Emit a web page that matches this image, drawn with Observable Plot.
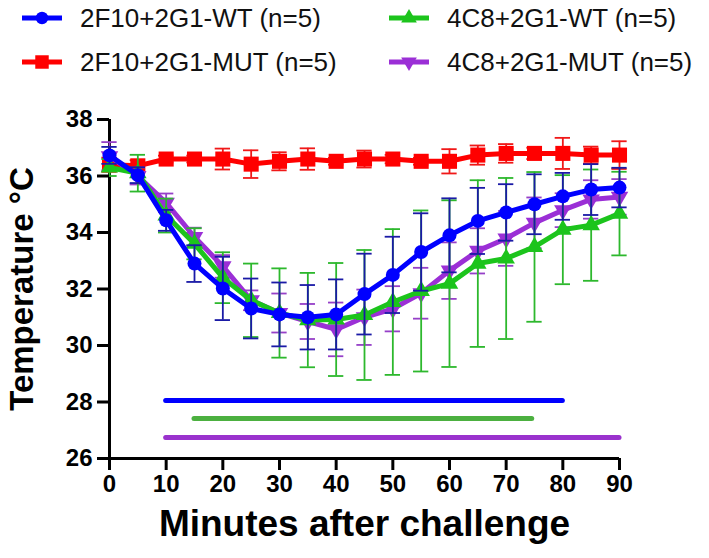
<!DOCTYPE html>
<html>
<head>
<meta charset="utf-8">
<script src="https://cdn.jsdelivr.net/npm/d3@7"></script>
<script src="https://cdn.jsdelivr.net/npm/@observablehq/plot@0.6"></script>
<style>
  html, body { margin: 0; padding: 0; background: #fff; }
  body { width: 709px; height: 558px; position: relative; overflow: hidden; font-family: "Liberation Sans", Arial, sans-serif; }
  #legend { position: absolute; left: 0; top: 0; width: 709px; height: 90px; }
  .item { position: absolute; display: flex; align-items: center; font-size: 26px; color: #111; white-space: nowrap; }
  .item svg { margin-right: 18px; }
  #chart { position: absolute; left: 0; top: 90px; }
</style>
</head>
<body>
<div id="legend"></div>
<div id="chart"></div>
<script>
// ---- data ----
const minutes = [0, 5, 10, 15, 20, 25, 30, 35, 40, 45, 50, 55, 60, 65, 70, 75, 80, 85, 90];

const seriesNames = ["2F10+2G1-WT (n=5)", "2F10+2G1-MUT (n=5)", "4C8+2G1-WT (n=5)", "4C8+2G1-MUT (n=5)"];

const wt2F10Mean = [36.73, 36.03, 34.43, 32.9, 32.02, 31.31, 31.1, 31.0, 31.1, 31.82, 32.5, 33.31, 33.9, 34.41, 34.71, 35.0, 35.28, 35.52, 35.59];
const wt2F10Err  = [0.3, 0.28, 0.37, 0.65, 1.12, 1.06, 1.13, 1.14, 1.24, 1.43, 1.35, 1.37, 1.31, 1.17, 1.0, 1.06, 0.83, 0.9, 0.7];

const mut2F10Mean = [36.4, 36.36, 36.6, 36.6, 36.6, 36.42, 36.52, 36.6, 36.52, 36.6, 36.6, 36.52, 36.52, 36.74, 36.8, 36.8, 36.8, 36.74, 36.74];
const mut2F10Err  = [0.25, 0.2, 0.12, 0.12, 0.37, 0.49, 0.32, 0.38, 0.12, 0.3, 0.15, 0.12, 0.43, 0.34, 0.33, 0.2, 0.55, 0.3, 0.49];

const wt4C8Mean = [36.3, 36.1, 34.6, 33.6, 32.4, 31.6, 31.15, 30.9, 30.92, 31.08, 31.54, 31.93, 32.19, 32.9, 33.08, 33.49, 34.1, 34.26, 34.67];
const wt4C8Err  = [0.3, 0.65, 0.6, 0.55, 0.9, 1.3, 1.58, 1.67, 2.0, 2.3, 2.58, 2.85, 2.95, 2.95, 2.85, 2.65, 1.93, 1.97, 1.48];

const mut4C8Mean = [36.7, 36.0, 35.05, 33.84, 32.8, 31.6, 31.15, 30.85, 30.57, 31.0, 31.3, 31.85, 32.65, 33.35, 33.79, 34.34, 34.79, 35.17, 35.26];
const mut4C8Err  = [0.5, 0.3, 0.33, 0.33, 0.4, 0.35, 0.69, 0.62, 0.95, 0.98, 0.8, 0.9, 1.0, 0.8, 0.97, 0.9, 0.6, 0.68, 0.63];

// significance bars
const sigStart = [10, 15, 10];
const sigEnd   = [80, 74.6, 90];
const sigLevel = [28.05, 27.42, 26.74];

const yTicks = [26, 28, 30, 32, 34, 36, 38];
const xTicks = [0, 10, 20, 30, 40, 50, 60, 70, 80, 90];

const xTitle = "Minutes after challenge";
const yTitle = "Temperature °C";

// ---- styles ----
const lineColors = ["#0000ff", "#ff0000", "#1cc41c", "#9b2fd6"];
const barColors  = ["#1a1aa6", "#f01818", "#2db82d", "#9640c8"];
const sigColors  = ["#0000ff", "#4cb040", "#9a32cd"];

const triDown = {
  draw(ctx, size) {
    const y = -Math.sqrt(size / (Math.sqrt(3) * 3));
    const s3 = Math.sqrt(3);
    ctx.moveTo(0, -y * 2);
    ctx.lineTo(-s3 * y, y);
    ctx.lineTo(s3 * y, y);
    ctx.closePath();
  }
};
const symbols = ["circle", "square", "triangle", triDown];
const radii = [7, 8.5, 6.5, 6.5];

const means = [wt2F10Mean, mut2F10Mean, wt4C8Mean, mut4C8Mean];
const errs = [wt2F10Err, mut2F10Err, wt4C8Err, mut4C8Err];

const tables = means.map((m, i) => minutes.map((t, j) => ({t, v: m[j], e: errs[i][j], s: seriesNames[i]})));
const sigTable = sigStart.map((s, i) => ({x1: s, x2: sigEnd[i], y: sigLevel[i], c: sigColors[i]}));

// ---- legend ----
const legend = document.getElementById("legend");
const legendPos = [[22, 18], [22, 62], [389, 18], [389, 62]];
seriesNames.forEach((name, i) => {
  const div = document.createElement("div");
  div.className = "item";
  div.style.left = legendPos[i][0] + "px";
  div.style.top = (legendPos[i][1] - 16) + "px";
  div.style.height = "32px";
  const svg = d3.create("svg").attr("width", 40).attr("height", 32);
  svg.append("line").attr("x1", 0).attr("x2", 40).attr("y1", 16).attr("y2", 16)
    .attr("stroke", lineColors[i]).attr("stroke-width", 5);
  const sym = typeof symbols[i] === "string"
    ? {circle: d3.symbolCircle, square: d3.symbolSquare, triangle: d3.symbolTriangle}[symbols[i]]
    : symbols[i];
  svg.append("path").attr("transform", "translate(20,16)")
    .attr("d", d3.symbol(sym, Math.PI * radii[i] * radii[i] * 0.8)())
    .attr("fill", lineColors[i]);
  div.appendChild(svg.node());
  const span = document.createElement("span");
  span.textContent = name;
  div.appendChild(span);
  legend.appendChild(div);
});

// ---- chart ----
const order = [1, 3, 2, 0]; // drawing order: red, purple, green, blue on top
const marks = [];
marks.push(Plot.ruleY(sigTable, {x1: "x1", x2: "x2", y: "y", stroke: "c", strokeWidth: 5, strokeLinecap: "round"}));
marks.push(Plot.ruleX([0], {y1: 26, y2: 38, stroke: "#000", strokeWidth: 3}));
marks.push(Plot.ruleY([26], {x1: 0, x2: 90, stroke: "#000", strokeWidth: 3}));
for (const i of order) {
  const data = tables[i];
  marks.push(Plot.ruleX(data, {x: "t", y1: d => d.v - d.e, y2: d => d.v + d.e, stroke: barColors[i], strokeWidth: 1.8}));
  marks.push(Plot.ruleY(data, {y: d => d.v + d.e, x1: d => d.t - 1.35, x2: d => d.t + 1.35, stroke: barColors[i], strokeWidth: 1.8}));
  marks.push(Plot.ruleY(data, {y: d => d.v - d.e, x1: d => d.t - 1.35, x2: d => d.t + 1.35, stroke: barColors[i], strokeWidth: 1.8}));
  marks.push(Plot.line(data, {x: "t", y: "v", stroke: lineColors[i], strokeWidth: 5, strokeLinejoin: "round"}));
  marks.push(Plot.dot(data, {x: "t", y: "v", symbol: symbols[i], r: radii[i], fill: lineColors[i], stroke: "none"}));
}
marks.push(Plot.axisY({ticks: yTicks, tickSize: 12, tickPadding: 5, strokeWidth: 3, fontSize: 24, fontWeight: "bold", label: null, tickFormat: d => String(d)}));
marks.push(Plot.axisX({ticks: xTicks, tickSize: 12, tickPadding: 4, strokeWidth: 3, fontSize: 24, fontWeight: "bold", label: null, tickFormat: d => String(d)}));
marks.push(Plot.text([xTitle], {frameAnchor: "bottom", textAnchor: "middle", lineAnchor: "middle", dy: 66, fontSize: 37, fontWeight: "bold", fill: "#000"}));
marks.push(Plot.text([yTitle], {frameAnchor: "left", textAnchor: "middle", lineAnchor: "middle", dx: -87, rotate: -90, fontSize: 33, fontWeight: "bold", fill: "#000"}));

const chart = Plot.plot({
  width: 709,
  height: 468,
  marginTop: 29,
  marginBottom: 100,
  marginLeft: 109,
  marginRight: 90,
  x: {domain: [0, 90]},
  y: {domain: [26, 38]},
  style: {fontFamily: "'Liberation Sans', Arial, sans-serif", color: "#000", background: "#fff", overflow: "visible"},
  marks
});
document.getElementById("chart").appendChild(chart);
</script>
</body>
</html>
